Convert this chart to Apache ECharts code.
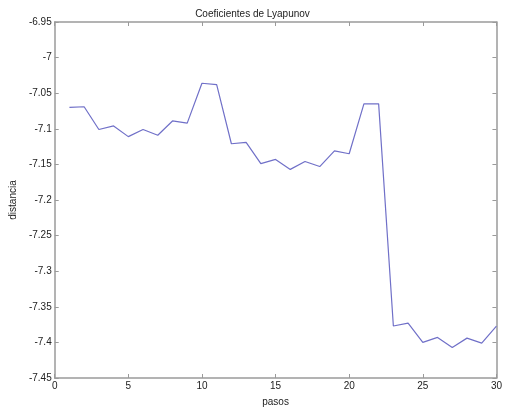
<!DOCTYPE html>
<html>
<head>
<meta charset="utf-8">
<script src="https://cdn.jsdelivr.net/npm/echarts@6/dist/echarts.min.js"></script>
<style>
  html, body { margin: 0; padding: 0; background: #fff; }
  #lyap-chart { width: 505px; height: 412px; }
</style>
</head>
<body>
<div id="lyap-chart"></div>
<script>
// pasos (steps) and distance values
var pasos = [1, 2, 3, 4, 5, 6, 7, 8, 9, 10, 11, 12, 13, 14, 15,
             16, 17, 18, 19, 20, 21, 22, 23, 24, 25, 26, 27, 28, 29, 30];
var distancia = [-7.070, -7.069, -7.101, -7.096, -7.111, -7.101, -7.109, -7.089, -7.092, -7.036,
                 -7.038, -7.121, -7.119, -7.149, -7.143, -7.157, -7.146, -7.153, -7.131, -7.135,
                 -7.065, -7.065, -7.377, -7.373, -7.400, -7.393, -7.407, -7.394, -7.401, -7.377];

var axisColor = '#9a9a9a';
var textColor = '#222';
var font = 'Liberation Sans, Arial, sans-serif';

var lyapDiv = document.getElementById('lyap-chart');
var lyapChart = echarts.init(lyapDiv);

var points = pasos.map(function(p, i) {
    return [p, distancia[i]];
});

// plain axis with inward ticks, matlab box look
function boxAxis(extra) {
    var base = {
        axisLine: { show: true, onZero: false, lineStyle: { color: axisColor, width: 1.5 } },
        axisTick: { show: true, inside: true, length: 4, lineStyle: { color: axisColor } },
        splitLine: { show: false },
        axisLabel: { show: false }
    };
    return Object.assign(base, extra);
}

var lyapOption = {
    animation: false,
    backgroundColor: '#ffffff',
    title: {
        text: 'Coeficientes de Lyapunov',
        left: 'center',
        top: 4,
        textStyle: { fontFamily: font, fontSize: 10, fontWeight: 'normal', color: textColor }
    },
    grid: { left: 50, right: 7, top: 22, bottom: 33 },
    xAxis: [
        boxAxis({
            type: 'value', min: 0, max: 30, interval: 5, position: 'bottom',
            name: 'pasos', nameLocation: 'middle', nameGap: 19,
            nameTextStyle: { fontFamily: font, fontSize: 10, color: textColor },
            axisLabel: { show: true, fontFamily: font, fontSize: 10, color: textColor, margin: 3 }
        }),
        boxAxis({ type: 'value', min: 0, max: 30, interval: 5, position: 'top' })
    ],
    yAxis: [
        boxAxis({
            type: 'value', min: -7.45, max: -6.95, interval: 0.05, position: 'left',
            name: 'distancia', nameLocation: 'middle', nameGap: 36, nameRotate: 90,
            nameTextStyle: { fontFamily: font, fontSize: 10, color: textColor },
            axisLabel: {
                show: true, fontFamily: font, fontSize: 10, color: textColor, margin: 3,
                formatter: function(v) { return String(+v.toFixed(2)); }
            }
        }),
        boxAxis({ type: 'value', min: -7.45, max: -6.95, interval: 0.05, position: 'right' })
    ],
    series: [{
        name: 'distancia',
        type: 'line',
        xAxisIndex: 0,
        yAxisIndex: 0,
        data: points,
        showSymbol: false,
        lineStyle: { color: '#7070c8', width: 1.2 }
    }]
};

lyapChart.setOption(lyapOption);
</script>
</body>
</html>
